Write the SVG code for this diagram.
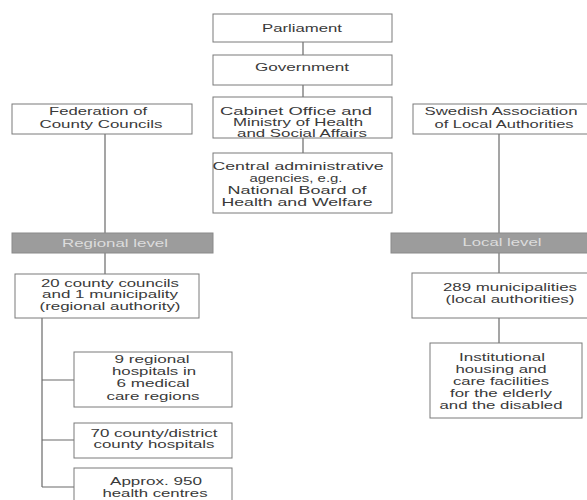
<svg xmlns="http://www.w3.org/2000/svg" width="587" height="500" viewBox="0 0 587 500">
<style>
.box{fill:#fff;stroke:#7a7a7a;stroke-width:1}
.bar{fill:#9c9c9c;stroke:#8a8a8a;stroke-width:1}
.t{font-family:"Liberation Sans",Arial,sans-serif;font-size:11.5px;fill:#3a3a3a;text-anchor:middle}
.bt{font-family:"Liberation Sans",Arial,sans-serif;font-size:11.5px;fill:#dcdcdc;text-anchor:middle}
.c{stroke:#6a6a6a;stroke-width:1.2;fill:none}
</style>
<rect width="587" height="500" fill="#fff"/>
<g id="connectors">
<path class="c" d="M303 42V55M303 85V97M303 138V153"/>
<path class="c" d="M105 134V233M105 253V274"/>
<path class="c" d="M499 134V233M499 253V273M499 318V343"/>
<path class="c" d="M42 318V487M42 380H74M42 440H74M42 487H74"/>
</g>
<g id="parliament">
<rect class="box" x="213" y="14" width="179" height="28"/>
<text class="t" x="302" y="32" textLength="80" lengthAdjust="spacingAndGlyphs">Parliament</text>
</g>
<g id="government">
<rect class="box" x="213" y="55" width="179" height="30"/>
<text class="t" x="302" y="71" textLength="94" lengthAdjust="spacingAndGlyphs">Government</text>
</g>
<g id="cabinet">
<rect class="box" x="213" y="97" width="179" height="41"/>
<text class="t" x="296" y="115" textLength="152" lengthAdjust="spacingAndGlyphs">Cabinet Office and</text>
<text class="t" x="298" y="126" textLength="130" lengthAdjust="spacingAndGlyphs">Ministry of Health</text>
<text class="t" x="302" y="137" textLength="130" lengthAdjust="spacingAndGlyphs">and Social Affairs</text>
</g>
<g id="central">
<rect class="box" x="213" y="153" width="179" height="60"/>
<text class="t" x="298" y="170" textLength="171" lengthAdjust="spacingAndGlyphs">Central administrative</text>
<text class="t" x="296" y="182" textLength="93" lengthAdjust="spacingAndGlyphs">agencies, e.g.</text>
<text class="t" x="297" y="194" textLength="139" lengthAdjust="spacingAndGlyphs">National Board of</text>
<text class="t" x="297" y="206" textLength="151" lengthAdjust="spacingAndGlyphs">Health and Welfare</text>
</g>
<g id="federation">
<rect class="box" x="12" y="104" width="180" height="30"/>
<text class="t" x="98" y="115" textLength="98" lengthAdjust="spacingAndGlyphs">Federation of</text>
<text class="t" x="101" y="128" textLength="123" lengthAdjust="spacingAndGlyphs">County Councils</text>
</g>
<g id="swedish">
<rect class="box" x="413" y="104" width="182" height="30"/>
<text class="t" x="501" y="115" textLength="153" lengthAdjust="spacingAndGlyphs">Swedish Association</text>
<text class="t" x="504" y="128" textLength="139" lengthAdjust="spacingAndGlyphs">of Local Authorities</text>
</g>
<g id="regional-level">
<rect class="bar" x="12" y="233" width="201" height="20"/>
<text class="bt" x="115" y="247" textLength="106" lengthAdjust="spacingAndGlyphs">Regional level</text>
</g>
<g id="local-level">
<rect class="bar" x="391" y="233" width="210" height="20"/>
<text class="bt" x="502" y="246" textLength="79" lengthAdjust="spacingAndGlyphs">Local level</text>
</g>
<g id="county-councils">
<rect class="box" x="15" y="274" width="184" height="44"/>
<text class="t" x="110" y="287" textLength="138" lengthAdjust="spacingAndGlyphs">20 county councils</text>
<text class="t" x="110" y="298" textLength="136" lengthAdjust="spacingAndGlyphs">and 1 municipality</text>
<text class="t" x="110" y="310" textLength="141" lengthAdjust="spacingAndGlyphs">(regional authority)</text>
</g>
<g id="regional-hospitals">
<rect class="box" x="74" y="352" width="158" height="55"/>
<text class="t" x="152" y="363" textLength="75" lengthAdjust="spacingAndGlyphs">9 regional</text>
<text class="t" x="154" y="375" textLength="84" lengthAdjust="spacingAndGlyphs">hospitals in</text>
<text class="t" x="153" y="387" textLength="73" lengthAdjust="spacingAndGlyphs">6 medical</text>
<text class="t" x="153" y="400" textLength="93" lengthAdjust="spacingAndGlyphs">care regions</text>
</g>
<g id="county-hospitals">
<rect class="box" x="74" y="423" width="158" height="35"/>
<text class="t" x="154" y="437" textLength="127" lengthAdjust="spacingAndGlyphs">70 county/district</text>
<text class="t" x="154" y="448" textLength="121" lengthAdjust="spacingAndGlyphs">county hospitals</text>
</g>
<g id="health-centres">
<rect class="box" x="74" y="468" width="158" height="40"/>
<text class="t" x="156" y="485" textLength="92" lengthAdjust="spacingAndGlyphs">Approx. 950</text>
<text class="t" x="155" y="497" textLength="105" lengthAdjust="spacingAndGlyphs">health centres</text>
</g>
<g id="municipalities">
<rect class="box" x="412" y="273" width="190" height="45"/>
<text class="t" x="510" y="291" textLength="134" lengthAdjust="spacingAndGlyphs">289 municipalities</text>
<text class="t" x="510" y="303" textLength="129" lengthAdjust="spacingAndGlyphs">(local authorities)</text>
</g>
<g id="institutional">
<rect class="box" x="430" y="343" width="152" height="75"/>
<text class="t" x="502" y="361" textLength="86" lengthAdjust="spacingAndGlyphs">Institutional</text>
<text class="t" x="501" y="373" textLength="91" lengthAdjust="spacingAndGlyphs">housing and</text>
<text class="t" x="501" y="385" textLength="96" lengthAdjust="spacingAndGlyphs">care facilities</text>
<text class="t" x="501" y="397" textLength="102" lengthAdjust="spacingAndGlyphs">for the elderly</text>
<text class="t" x="501" y="409" textLength="123" lengthAdjust="spacingAndGlyphs">and the disabled</text>
</g>
</svg>
